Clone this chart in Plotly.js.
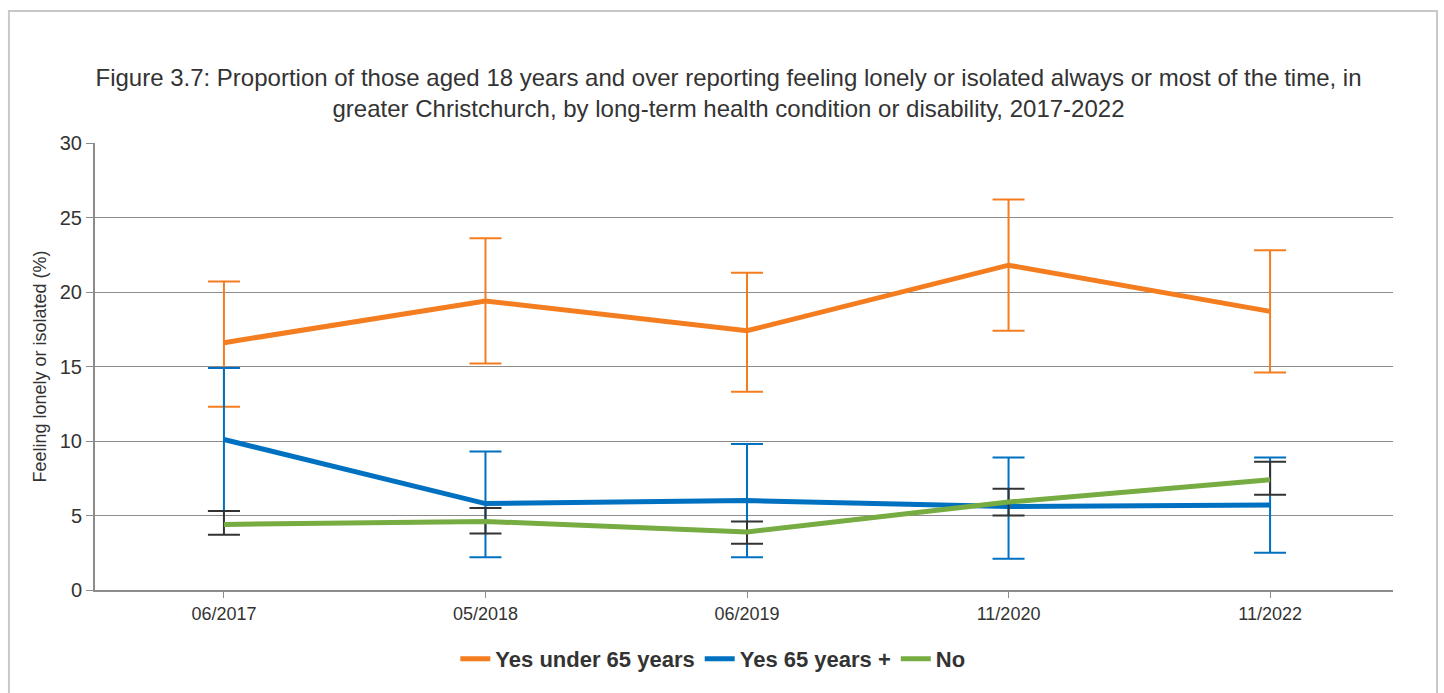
<!DOCTYPE html>
<html>
<head>
<meta charset="utf-8">
<script src="https://cdn.plot.ly/plotly-3.0.1.min.js"></script>
<style>
  html, body { margin: 0; padding: 0; background: #ffffff; }
  #chart { width: 1444px; height: 693px; }
</style>
</head>
<body>
<div id="chart"></div>
<script>
const categories = ["06/2017", "05/2018", "06/2019", "11/2020", "11/2022"];

const seriesNames = ["Yes under 65 years", "Yes 65 years +", "No"];

const under65 = [16.6, 19.4, 17.4, 21.8, 18.7];
const under65Upper = [20.7, 23.6, 21.3, 26.2, 22.8];
const under65Lower = [12.3, 15.2, 13.3, 17.4, 14.6];

const over65 = [10.1, 5.8, 6.0, 5.6, 5.7];
const over65Upper = [14.9, 9.3, 9.8, 8.9, 8.9];
const over65Lower = [5.3, 2.2, 2.2, 2.1, 2.5];

const noCond = [4.4, 4.6, 3.9, 5.9, 7.4];
const noCondUpper = [5.3, 5.5, 4.6, 6.8, 8.6];
const noCondLower = [3.7, 3.8, 3.1, 5.0, 6.4];

const titleText = "Figure 3.7: Proportion of those aged 18 years and over reporting feeling lonely or isolated always or most of the time, in<br>greater Christchurch, by long-term health condition or disability, 2017-2022";
const yTitle = "Feeling lonely or isolated (%)";

function errs(vals, up, lo) {
  return {
    plus: up.map((u, i) => +(u - vals[i]).toFixed(2)),
    minus: lo.map((l, i) => +(vals[i] - l).toFixed(2))
  };
}

function makeTrace(name, vals, up, lo, color, errColor) {
  const e = errs(vals, up, lo);
  return {
    type: "scatter",
    mode: "lines",
    name: name,
    x: categories,
    y: vals,
    line: { color: color, width: 5 },
    error_y: {
      type: "data",
      symmetric: false,
      array: e.plus,
      arrayminus: e.minus,
      color: errColor,
      thickness: 2,
      width: 16
    }
  };
}

const traces = [
  makeTrace(seriesNames[0], under65, under65Upper, under65Lower, "#f47d20", "#f47d20"),
  makeTrace(seriesNames[1], over65, over65Upper, over65Lower, "#0070c0", "#0070c0"),
  makeTrace(seriesNames[2], noCond, noCondUpper, noCondLower, "#76ac41", "#333333")
];

const layout = {
  width: 1444,
  height: 693,
  margin: { l: 95, r: 51, t: 143, b: 103 },
  paper_bgcolor: "#ffffff",
  plot_bgcolor: "#ffffff",
  font: { family: "Liberation Sans, Arial, sans-serif", color: "#333333" },
  title: {
    text: titleText,
    font: { size: 24, color: "#333333", family: "Liberation Sans, Arial, sans-serif" },
    x: 0.5045,
    xanchor: "center",
    y: 0.876,
    yanchor: "top",
    yref: "container"
  },
  xaxis: {
    type: "category",
    range: [-0.493, 4.47],
    showgrid: false,
    showline: true,
    linecolor: "#8c8c8c",
    linewidth: 2,
    ticks: "outside",
    ticklen: 6,
    tickcolor: "#8c8c8c",
    tickfont: { size: 18, color: "#333333" },
    zeroline: false,
    fixedrange: true
  },
  yaxis: {
    range: [0, 30],
    dtick: 5,
    showgrid: true,
    gridcolor: "#8c8c8c",
    gridwidth: 1,
    showline: true,
    linecolor: "#8c8c8c",
    linewidth: 2,
    ticks: "outside",
    ticklen: 7,
    tickcolor: "#8c8c8c",
    tickfont: { size: 20, color: "#333333" },
    zeroline: false,
    title: {
      text: yTitle,
      font: { size: 18, color: "#333333" },
      standoff: 8
    },
    fixedrange: true
  },
  showlegend: true,
  legend: {
    orientation: "h",
    x: 0.476,
    xanchor: "center",
    y: -0.154,
    yanchor: "middle",
    font: { size: 22, color: "#333333", family: "Liberation Sans, Arial, sans-serif", weight: "bold" },
    bgcolor: "rgba(0,0,0,0)"
  },
  shapes: [
    {
      type: "rect",
      xref: "paper",
      yref: "paper",
      x0: -0.0663,
      x1: 1.0339,
      y0: -0.26,
      y1: 1.2953,
      line: { color: "#c8c8c8", width: 2 },
      fillcolor: "rgba(0,0,0,0)",
      layer: "below"
    }
  ]
};

Plotly.newPlot("chart", traces, layout, { displayModeBar: false, staticPlot: true });
</script>
</body>
</html>
